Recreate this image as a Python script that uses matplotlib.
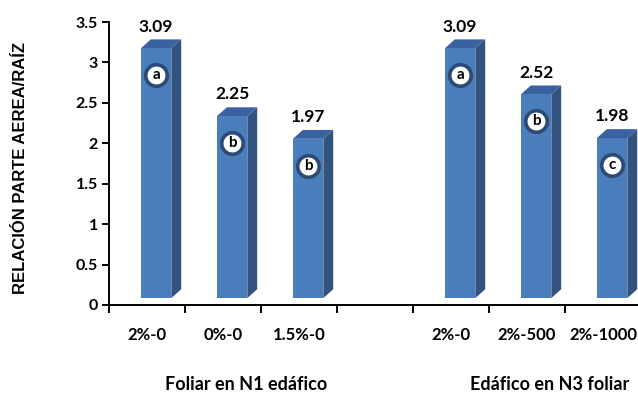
import numpy as np
import matplotlib
matplotlib.use("Agg")
import matplotlib.pyplot as plt
from matplotlib.patches import Polygon, Rectangle

# relación parte aérea / raíz por tratamiento
group_names = ["Foliar en N1 edáfico", "Edáfico en N3 foliar"]
group_cats = [["2%-0", "0%-0", "1.5%-0"], ["2%-0", "2%-500", "2%-1000"]]
group_vals = [[3.09, 2.25, 1.97], [3.09, 2.52, 1.98]]
group_letters = [["a", "b", "b"], ["a", "b", "c"]]

FRONT = "#4A7DBB"
SIDE = "#32537E"
TOP = "#3A62A0"
RING = "#2C4A74"

plt.rcParams["font.family"] = ["Lato", "DejaVu Sans"]

fig = plt.figure(figsize=(6.38, 3.96), dpi=100)
ax = fig.add_axes([109 / 638, 1 - 305 / 396, 532 / 638, 283 / 396])

# slot layout: one empty slot between groups
xpos, labels, vals, letters, centers = [], [], [], [], []
slot = 0
for g, cats in enumerate(group_cats):
    start = slot
    for c, v, l in zip(cats, group_vals[g], group_letters[g]):
        xpos.append(slot)
        labels.append(c)
        vals.append(v)
        letters.append(l)
        slot += 1
    centers.append((start + slot) / 2)
    slot += 1
nslots = slot - 1

base = 0.085   # front face sits a little above the floor
w0, w1 = 0.42, 0.82
dx, dz = 0.13, 0.11

for x, v, l in zip(xpos, vals, letters):
    x0, x1 = x + w0, x + w1
    top = base + v
    ax.add_patch(Polygon([(x1, base), (x1 + dx, base + dz), (x1 + dx, top + dz), (x1, top)],
                         closed=True, facecolor=SIDE, edgecolor="none"))
    ax.add_patch(Polygon([(x0, top), (x0 + dx, top + dz), (x1 + dx, top + dz), (x1, top)],
                         closed=True, facecolor=TOP, edgecolor="none"))
    ax.add_patch(Rectangle((x0, base), x1 - x0, v, facecolor=FRONT, edgecolor="none"))
    xc = (x0 + x1) / 2
    ax.text(xc, top + dz + 0.06, f"{v:.2f}", ha="center", va="bottom",
            fontsize=12.5, fontweight="bold", color="black")
    ax.plot([xc], [top - 0.33], marker="o", ms=15.5, mfc="white", mec=RING, mew=2.6)
    ax.text(xc, top - 0.33, l, ha="center", va="center", fontsize=11,
            fontweight="bold", color="black")

ax.set_xlim(0, nslots)
ax.set_ylim(0, 3.5)
ax.set_yticks(np.arange(0, 3.51, 0.5))
ax.set_yticklabels(["0", "0.5", "1", "1.5", "2", "2.5", "3", "3.5"])
ax.set_xticks([x + 0.5 for x in xpos])
ax.set_xticklabels(labels)
ax.set_xticks(range(0, nslots), minor=True)

for s in ["top", "right"]:
    ax.spines[s].set_visible(False)
for s in ["left", "bottom"]:
    ax.spines[s].set_linewidth(1.4)
    ax.spines[s].set_color("black")

ax.tick_params(axis="y", length=5, width=1.4, pad=3, labelsize=11.5)
ax.tick_params(axis="x", which="major", length=0, pad=16, labelsize=12)
ax.tick_params(axis="x", which="minor", length=6, width=1.4)
for t in ax.get_xticklabels() + ax.get_yticklabels():
    t.set_fontweight("bold")

fig.text(21 / 638, 1 - 168 / 396, "RELACIÓN PARTE AEREA/RAÍZ",
         family=["Liberation Sans", "DejaVu Sans"], fontsize=12, fontweight="bold",
         rotation=90, ha="center", va="center")

for name, c in zip(group_names, centers):
    ax.text(c + 0.3, -0.282, name, transform=ax.get_xaxis_transform(),
            ha="center", va="center", fontsize=13, fontweight="bold")

fig.savefig("out.png", dpi=100)
